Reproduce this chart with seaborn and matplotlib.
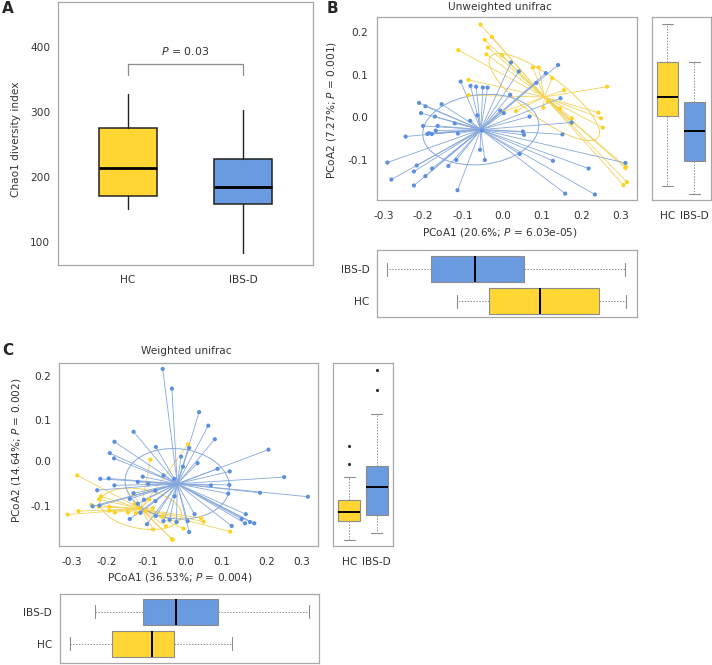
import numpy as np
import pandas as pd
import matplotlib
matplotlib.use("Agg")
import matplotlib.pyplot as plt
import seaborn as sns
from matplotlib.patches import Ellipse

# ---------------- data ----------------
groups = ["HC", "IBS-D"]

# Panel A: Chao1 diversity box statistics (HC, IBS-D)
chao1_low = [150, 83]
chao1_q1 = [171, 159]
chao1_median = [213, 184]
chao1_q3 = [275, 228]
chao1_high = [328, 303]
chao1_bracket = [357, 373]
chao1_p = "0.03"

# Panel B: unweighted unifrac PCoA scores
unw_hc_x = [-0.055, -0.026, -0.044, -0.036, -0.111, -0.040, -0.001, 0.077, 0.092, 0.126,
            -0.085, 0.156, 0.265, -0.085, 0.104, 0.115, 0.146, 0.035, 0.001, 0.243,
            0.249, 0.176, 0.176, 0.254, 0.312, 0.311, 0.315, 0.306]
unw_hc_y = [0.218, 0.189, 0.182, 0.164, 0.158, 0.148, 0.146, 0.117, 0.117, 0.092,
            0.088, 0.064, 0.072, 0.052, 0.023, 0.037, 0.021, 0.015, 0.013, 0.011,
            -0.002, -0.002, -0.013, -0.024, -0.116, -0.119, -0.152, -0.159]
unw_ibs_x = [-0.290, -0.280, -0.244, -0.223, -0.223, -0.216, -0.210, -0.205, -0.200, -0.194,
             -0.194, -0.189, -0.185, -0.178, -0.177, -0.170, -0.168, -0.163, -0.153, -0.136,
             -0.120, -0.116, -0.112, -0.113, -0.105, -0.080, -0.066, -0.049, -0.037, -0.081,
             -0.063, -0.056, -0.051, -0.044, -0.005, 0.004, 0.020, 0.022, 0.042, 0.044,
             0.052, 0.055, 0.069, 0.086, 0.110, 0.128, 0.141, 0.147, 0.152, 0.159,
             0.175, 0.218, 0.234, 0.311]
unw_ibs_y = [-0.106, -0.146, -0.045, -0.160, -0.127, -0.113, 0.034, 0.010, -0.020, 0.026,
             -0.138, -0.039, -0.037, -0.039, -0.120, 0.002, -0.031, -0.020, 0.031, -0.114,
             -0.014, -0.100, -0.038, -0.171, 0.084, 0.074, 0.072, 0.070, 0.070, -0.008,
             0.005, -0.076, -0.031, -0.100, 0.016, 0.010, 0.053, 0.129, 0.108, -0.086,
             -0.033, -0.041, 0.002, 0.081, 0.104, -0.102, 0.123, 0.045, -0.040, -0.179,
             -0.012, -0.120, -0.181, -0.107]
# marginal boxplots, PCoA2 (HC, IBS-D)
unw_pc2_low = [-0.160, -0.180]
unw_pc2_q1 = [0.004, -0.102]
unw_pc2_med = [0.049, -0.031]
unw_pc2_q3 = [0.131, 0.036]
unw_pc2_high = [0.219, 0.130]
# marginal boxplots, PCoA1 (HC, IBS-D)
unw_pc1_low = [-0.114, -0.292]
unw_pc1_q1 = [-0.033, -0.180]
unw_pc1_med = [0.096, -0.068]
unw_pc1_q3 = [0.245, 0.054]
unw_pc1_high = [0.312, 0.310]

# Panel C: weighted unifrac PCoA scores
w_hc_x = [-0.284, -0.309, -0.281, -0.247, -0.228, -0.200, -0.200, -0.186, -0.227, -0.222,
          -0.152, -0.137, -0.131, -0.105, -0.093, -0.087, -0.096, -0.061, -0.052, -0.086,
          -0.037, -0.035, -0.024, -0.007, 0.005, 0.039, 0.046, 0.115, -0.133, -0.124]
w_hc_y = [-0.029, -0.119, -0.111, -0.097, -0.101, -0.101, -0.110, -0.114, -0.084, -0.077,
          -0.114, -0.071, -0.116, -0.110, 0.007, -0.104, -0.084, -0.123, -0.146, -0.153,
          -0.175, -0.177, -0.136, -0.151, 0.042, -0.127, -0.135, -0.158, -0.094, -0.104]
w_ibs_x = [-0.061, -0.037, 0.034, 0.058, -0.137, 0.075, -0.187, 0.215, -0.079, -0.199,
           -0.188, -0.013, 0.008, -0.008, 0.030, 0.082, 0.114, -0.113, -0.059, -0.031,
           -0.224, -0.202, 0.256, -0.126, -0.187, -0.099, 0.065, 0.113, -0.232, -0.080,
           0.193, 0.110, 0.318, -0.137, -0.147, -0.110, -0.030, -0.244, -0.226, -0.126,
           -0.080, -0.119, -0.079, 0.022, 0.156, -0.147, -0.043, -0.059, 0.004, 0.145,
           0.167, 0.178, 0.154, -0.102, 0.119, 0.008, -0.025]
w_ibs_y = [0.215, 0.170, 0.116, 0.085, 0.071, 0.054, 0.048, 0.030, 0.036, 0.022,
           0.010, 0.014, 0.034, -0.009, -0.001, -0.014, -0.020, -0.032, -0.029, -0.037,
           -0.037, -0.036, -0.033, -0.044, -0.052, -0.049, -0.052, -0.051, -0.063, -0.064,
           -0.069, -0.071, -0.078, -0.070, -0.083, -0.085, -0.077, -0.100, -0.098, -0.094,
           -0.088, -0.115, -0.122, -0.118, -0.118, -0.129, -0.131, -0.134, -0.134, -0.129,
           -0.136, -0.139, -0.139, -0.141, -0.145, -0.159, -0.136]
# marginal boxplots, PCoA2 (HC, IBS-D)
w_pc2_low = [-0.178, -0.162]
w_pc2_q1 = [-0.134, -0.121]
w_pc2_med = [-0.114, -0.055]
w_pc2_q3 = [-0.086, -0.008]
w_pc2_high = [-0.032, 0.112]
w_pc2_fliers = [[-0.002, 0.039], [0.167, 0.212]]
# marginal boxplots, PCoA1 (HC, IBS-D)
w_pc1_low = [-0.303, -0.238]
w_pc1_q1 = [-0.194, -0.112]
w_pc1_med = [-0.088, -0.025]
w_pc1_q3 = [-0.032, 0.084]
w_pc1_high = [0.119, 0.322]

tick_vals = [-0.3, -0.2, -0.1, 0.0, 0.1, 0.2, 0.3]
ytick_vals = [-0.1, 0.0, 0.1, 0.2]

# ---------------- style ----------------
sns.set_style("white")
plt.rcParams["font.family"] = ["DejaVu Sans"]
plt.rcParams["mathtext.fontset"] = "dejavusans"
FS = 7.6
TXT = "#333333"
SPINE = "#a8a8a8"
YEL = "#ffd633"
BLU = "#6a9be0"
YEL_PT = "#ffd21f"
BLU_PT = "#5b8fe0"
YEL_LN = "#f2d35c"
BLU_LN = "#86a8dc"
GREY = "#8c8c8c"

W, H = 712, 665
fig = plt.figure(figsize=(W / 100, H / 100), dpi=100)


def rect(l, t, r, b):
    return [l / W, 1 - b / H, (r - l) / W, (b - t) / H]


def frame(ax):
    for s in ax.spines.values():
        s.set_color(SPINE)
        s.set_linewidth(0.9)
    ax.tick_params(colors=GREY, labelcolor=TXT, labelsize=FS, length=2.2, width=0.6)


def stats(low, q1, med, q3, high, fliers=None):
    return [dict(whislo=low[i], q1=q1[i], med=med[i], q3=q3[i], whishi=high[i],
                 fliers=(fliers[i] if fliers else [])) for i in range(len(groups))]


def side_box(ax, st, positions, orientation):
    bp = ax.bxp(st, positions=positions, widths=0.8, patch_artist=True,
                orientation=orientation, showfliers=True, capwidths=0.4,
                boxprops=dict(edgecolor=GREY, linewidth=0.8),
                whiskerprops=dict(color=GREY, linewidth=0.7, linestyle=(0, (1.5, 1.5))),
                capprops=dict(color=GREY, linewidth=0.8),
                medianprops=dict(color="black", linewidth=1.4),
                flierprops=dict(marker="o", markersize=1.3, markerfacecolor="#333333",
                                markeredgecolor="#333333", linestyle="none"))
    for patch, c in zip(bp["boxes"], [YEL, BLU]):
        patch.set_facecolor(c)
    return bp


def sd_ellipse(ax, x, y, color):
    x = np.asarray(x); y = np.asarray(y)
    cov = np.cov(x, y)
    vals, vecs = np.linalg.eigh(cov)
    order = vals.argsort()[::-1]
    vals, vecs = vals[order], vecs[:, order]
    angle = np.degrees(np.arctan2(vecs[1, 0], vecs[0, 0]))
    ax.add_patch(Ellipse((x.mean(), y.mean()), 2 * np.sqrt(vals[0]), 2 * np.sqrt(vals[1]),
                         angle=angle, fill=False, edgecolor=color, linewidth=0.7, zorder=2))


def spider(ax, x, y, lncolor):
    x = np.asarray(x); y = np.asarray(y)
    cx, cy = x.mean(), y.mean()
    for xi, yi in zip(x, y):
        ax.plot([cx, xi], [cy, yi], color=lncolor, linewidth=0.6, zorder=2)


def pcoa(ax, hx, hy, ix, iy):
    spider(ax, hx, hy, YEL_LN)
    sd_ellipse(ax, hx, hy, YEL_LN)
    spider(ax, ix, iy, BLU_LN)
    sd_ellipse(ax, ix, iy, BLU_LN)
    df = pd.DataFrame({"x": list(hx) + list(ix), "y": list(hy) + list(iy),
                       "g": ["HC"] * len(hx) + ["IBS-D"] * len(ix)})
    sns.scatterplot(data=df, x="x", y="y", hue="g", palette={"HC": YEL_PT, "IBS-D": BLU_PT},
                    s=9, linewidth=0, legend=False, ax=ax, zorder=3)
    ax.set_xlabel(""); ax.set_ylabel("")


# ---------------- Panel A ----------------
axA = fig.add_axes(rect(58, 2, 313, 265))
frame(axA)
bpA = axA.bxp(stats(chao1_low, chao1_q1, chao1_median, chao1_q3, chao1_high),
              positions=[0, 1], widths=0.5, patch_artist=True, showcaps=False,
              showfliers=False,
              boxprops=dict(edgecolor="#222222", linewidth=1.1),
              whiskerprops=dict(color="#222222", linewidth=1.0),
              medianprops=dict(color="black", linewidth=2.0))
for patch, c in zip(bpA["boxes"], [YEL, BLU]):
    patch.set_facecolor(c)
axA.plot([0, 0, 1, 1], [chao1_bracket[0], chao1_bracket[1], chao1_bracket[1], chao1_bracket[0]],
         color=GREY, linewidth=0.9)
axA.text(0.5, chao1_bracket[1] + 11, r"$P$ = " + chao1_p, ha="center", va="bottom",
         fontsize=FS + 0.3, color=TXT)
axA.set_xlim(-0.6, 1.6)
axA.set_ylim(64.6, 469)
axA.set_yticks([100, 200, 300, 400])
axA.set_xticks([0, 1], groups)
axA.tick_params(axis="y", pad=3.5)
axA.tick_params(axis="x", pad=5)
fig.text(16 / W, 1 - 139 / H, "Chao1 diversity index", rotation=90, ha="center", va="center",
         fontsize=FS, color=TXT)

# ---------------- Panel B ----------------
B_XLIM = (-0.315, 0.339)
B_YLIM = (-0.194, 0.235)
axB = fig.add_axes(rect(377.5, 17.3, 636.5, 200))
frame(axB)
pcoa(axB, unw_hc_x, unw_hc_y, unw_ibs_x, unw_ibs_y)
axB.set_xlim(*B_XLIM); axB.set_ylim(*B_YLIM)
axB.set_xticks(tick_vals, [f"{v:.1f}" for v in tick_vals])
axB.set_yticks(ytick_vals, [f"{v:.1f}" for v in ytick_vals])
axB.tick_params(axis="x", pad=5.5)
axB.tick_params(axis="y", pad=4.5)
fig.text(500 / W, 1 - 7 / H, "Unweighted unifrac", ha="center", va="center", fontsize=FS, color=TXT)
fig.text(500 / W, 1 - 233 / H, r"PCoA1 (20.6%; $P$ = 6.03e-05)", ha="center", va="center",
         fontsize=FS, color=TXT)
fig.text(331 / W, 1 - 110 / H, r"PCoA2 (7.27%; $P$ = 0.001)", rotation=90, ha="center",
         va="center", fontsize=FS, color=TXT)

axBs = fig.add_axes(rect(651.7, 17.3, 710.7, 200))
frame(axBs)
side_box(axBs, stats(unw_pc2_low, unw_pc2_q1, unw_pc2_med, unw_pc2_q3, unw_pc2_high),
         [0, 1], "vertical")
axBs.set_xlim(-0.585, 1.6); axBs.set_ylim(*B_YLIM)
axBs.set_xticks([0, 1], groups)
axBs.set_yticks([])
axBs.tick_params(axis="x", pad=5.5)

axBb = fig.add_axes(rect(377.5, 250, 636.5, 316.7))
frame(axBb)
side_box(axBb, stats(unw_pc1_low, unw_pc1_q1, unw_pc1_med, unw_pc1_q3, unw_pc1_high),
         [1, 0], "horizontal")
axBb.set_xlim(*B_XLIM); axBb.set_ylim(1.48, -0.6)
axBb.set_yticks([0, 1], ["IBS-D", "HC"])
axBb.set_xticks([])
axBb.tick_params(axis="y", pad=3.5)

# ---------------- Panel C ----------------
C_XLIM = (-0.333, 0.343)
C_YLIM = (-0.191, 0.228)
# tick marks (regular) and label anchors (as printed in the figure)
c_xmarks = [-0.309, -0.222, -0.135, -0.048, 0.039, 0.126, 0.213, 0.300]
c_xlabpos = [-0.298, -0.207, -0.099, 0.0, 0.094, 0.209, 0.303]
c_ymarks = [0.172, 0.094, 0.014, -0.066, -0.145]
c_ylabpos = [-0.100, 0.003, 0.098, 0.199]

axC = fig.add_axes(rect(58.5, 363.3, 317.5, 546))
frame(axC)
pcoa(axC, w_hc_x, w_hc_y, w_ibs_x, w_ibs_y)
axC.set_xlim(*C_XLIM); axC.set_ylim(*C_YLIM)
axC.set_xticks(c_xmarks, [""] * len(c_xmarks))
axC.set_xticks(c_xlabpos, [f"{v:.1f}" for v in tick_vals], minor=True)
axC.set_yticks(c_ymarks, [""] * len(c_ymarks))
axC.set_yticks(c_ylabpos, [f"{v:.1f}" for v in ytick_vals], minor=True)
axC.tick_params(which="minor", length=0, labelsize=FS, labelcolor=TXT)
axC.tick_params(axis="x", which="minor", pad=7.8)
axC.tick_params(axis="y", which="minor", pad=5.2)
fig.text(186 / W, 1 - 351 / H, "Weighted unifrac", ha="center", va="center", fontsize=FS, color=TXT)
fig.text(180 / W, 1 - 578 / H, r"PCoA1 (36.53%; $P$ = 0.004)", ha="center", va="center",
         fontsize=FS, color=TXT)
fig.text(17 / W, 1 - 450 / H, r"PCoA2 (14.64%; $P$ = 0.002)", rotation=90, ha="center",
         va="center", fontsize=FS, color=TXT)

axCs = fig.add_axes(rect(333.3, 363.3, 393.3, 546))
frame(axCs)
side_box(axCs, stats(w_pc2_low, w_pc2_q1, w_pc2_med, w_pc2_q3, w_pc2_high, w_pc2_fliers),
         [0, 1], "vertical")
axCs.set_xlim(-0.585, 1.6); axCs.set_ylim(*C_YLIM)
axCs.set_xticks([0, 1], groups)
axCs.set_yticks([])
axCs.tick_params(axis="x", pad=5.5)

axCb = fig.add_axes(rect(60, 594.3, 319, 663))
frame(axCb)
side_box(axCb, stats(w_pc1_low, w_pc1_q1, w_pc1_med, w_pc1_q3, w_pc1_high),
         [1, 0], "horizontal")
axCb.set_xlim(-0.329, 0.347); axCb.set_ylim(1.6, -0.55)
axCb.set_yticks([0, 1], ["IBS-D", "HC"])
axCb.set_xticks([])
axCb.tick_params(axis="y", pad=3.5)

# panel letters
fig.text(2 / W, 1 - 1 / H, "A", fontsize=11, fontweight="bold", va="top", ha="left")
fig.text(327 / W, 1 - 1 / H, "B", fontsize=11, fontweight="bold", va="top", ha="left")
fig.text(2 / W, 1 - 343 / H, "C", fontsize=11, fontweight="bold", va="top", ha="left")

fig.savefig("out.png", dpi=100, facecolor="white")
